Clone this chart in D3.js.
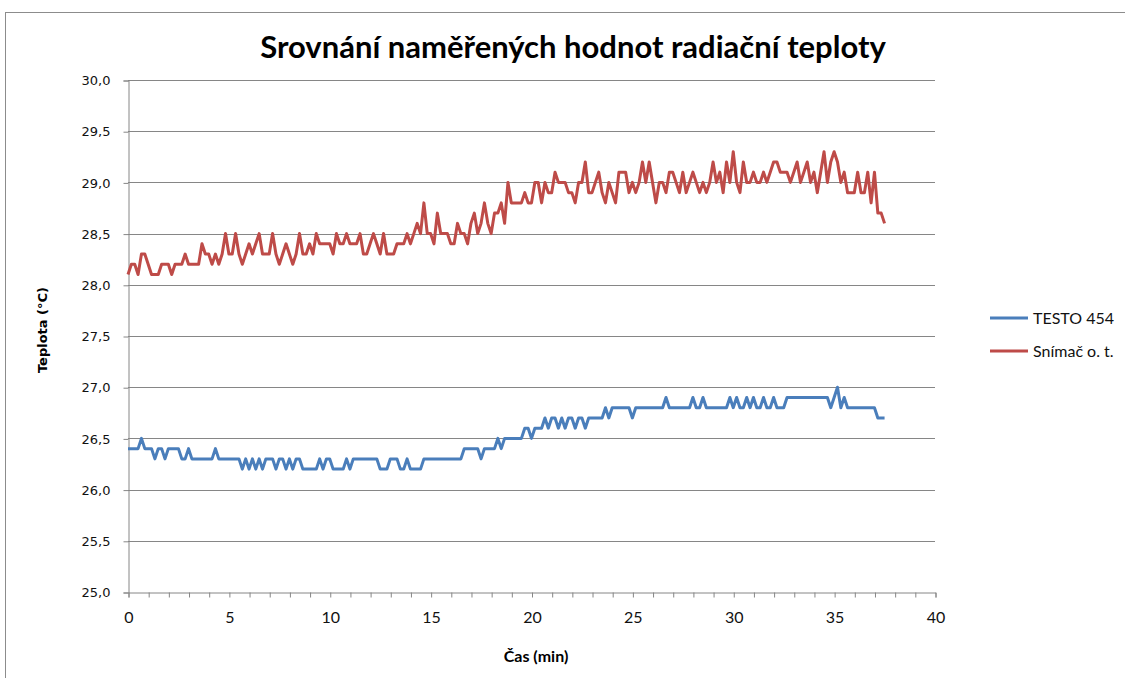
<!DOCTYPE html>
<html>
<head>
<meta charset="utf-8">
<script src="https://cdn.jsdelivr.net/npm/d3@7"></script>
<style>
    body { margin: 0; background: #fff; }
</style>
</head>
<body>
<svg id="graf" width="1125" height="678"></svg>
<script>
'use strict';

// Interval mezi měřeními (10 s) v minutách
const KROK = 1 / 6;

const CAS_POPISKY = [0, 5, 10, 15, 20, 25, 30, 35, 40];
const TEPLOTA_POPISKY = [25, 25.5, 26, 26.5, 27, 27.5, 28, 28.5, 29, 29.5, 30];

// TESTO 454 (°C), jedna hodnota každých 10 s
const TESTO = [
    26.4,26.4,26.4,26.4,26.5,26.4,26.4,26.4,26.3,26.4,26.4,26.3,
    26.4,26.4,26.4,26.4,26.3,26.3,26.4,26.3,26.3,26.3,26.3,26.3,
    26.3,26.3,26.4,26.3,26.3,26.3,26.3,26.3,26.3,26.3,26.2,26.3,
    26.2,26.3,26.2,26.3,26.2,26.3,26.3,26.3,26.2,26.3,26.3,26.2,
    26.3,26.2,26.3,26.3,26.2,26.2,26.2,26.2,26.2,26.3,26.2,26.3,
    26.3,26.2,26.2,26.2,26.2,26.3,26.2,26.3,26.3,26.3,26.3,26.3,
    26.3,26.3,26.3,26.2,26.2,26.2,26.3,26.3,26.3,26.2,26.2,26.3,
    26.2,26.2,26.2,26.2,26.3,26.3,26.3,26.3,26.3,26.3,26.3,26.3,
    26.3,26.3,26.3,26.3,26.4,26.4,26.4,26.4,26.4,26.3,26.4,26.4,
    26.4,26.4,26.5,26.4,26.5,26.5,26.5,26.5,26.5,26.5,26.6,26.6,
    26.5,26.6,26.6,26.6,26.7,26.6,26.7,26.7,26.6,26.7,26.6,26.7,
    26.7,26.6,26.7,26.7,26.6,26.7,26.7,26.7,26.7,26.7,26.8,26.7,
    26.8,26.8,26.8,26.8,26.8,26.8,26.7,26.8,26.8,26.8,26.8,26.8,
    26.8,26.8,26.8,26.8,26.9,26.8,26.8,26.8,26.8,26.8,26.8,26.8,
    26.9,26.8,26.8,26.9,26.8,26.8,26.8,26.8,26.8,26.8,26.8,26.9,
    26.8,26.9,26.8,26.8,26.9,26.8,26.9,26.8,26.8,26.9,26.8,26.8,
    26.9,26.8,26.8,26.8,26.9,26.9,26.9,26.9,26.9,26.9,26.9,26.9,
    26.9,26.9,26.9,26.9,26.9,26.8,26.9,27.0,26.8,26.9,26.8,26.8,
    26.8,26.8,26.8,26.8,26.8,26.8,26.8,26.7,26.7,26.7
];

// Snímač o. t. (°C)
const SNIMAC = [
    28.1,28.2,28.2,28.1,28.3,28.3,28.2,28.1,28.1,28.1,28.2,28.2,
    28.2,28.1,28.2,28.2,28.2,28.3,28.2,28.2,28.2,28.2,28.4,28.3,
    28.3,28.2,28.3,28.2,28.3,28.5,28.3,28.3,28.5,28.3,28.2,28.3,
    28.4,28.3,28.4,28.5,28.3,28.3,28.3,28.5,28.3,28.2,28.3,28.4,
    28.3,28.2,28.3,28.5,28.3,28.3,28.4,28.3,28.5,28.4,28.4,28.4,
    28.4,28.3,28.5,28.4,28.4,28.5,28.4,28.4,28.4,28.5,28.3,28.3,
    28.4,28.5,28.4,28.3,28.5,28.3,28.3,28.3,28.4,28.4,28.4,28.5,
    28.4,28.5,28.6,28.5,28.8,28.5,28.5,28.4,28.7,28.5,28.5,28.5,
    28.4,28.4,28.6,28.5,28.5,28.4,28.6,28.7,28.5,28.6,28.8,28.6,
    28.5,28.7,28.7,28.8,28.6,29.0,28.8,28.8,28.8,28.8,28.9,28.8,
    28.8,29.0,29.0,28.8,29.0,28.9,28.9,29.1,29.0,29.0,29.0,28.9,
    28.9,28.8,29.0,29.0,29.2,28.9,28.9,29.0,29.1,28.9,28.8,29.0,
    28.9,28.8,29.1,29.1,29.1,28.9,29.0,28.9,29.0,29.2,29.0,29.2,
    29.0,28.8,29.0,29.0,28.9,29.1,29.1,29.0,28.9,29.1,28.9,29.0,
    29.1,29.0,28.9,29.0,28.9,29.0,29.2,29.0,29.1,28.9,29.2,29.0,
    29.3,29.0,28.9,29.2,29.0,29.0,29.1,29.0,29.0,29.1,29.0,29.1,
    29.2,29.2,29.1,29.1,29.1,29.0,29.1,29.2,29.0,29.1,29.2,29.0,
    29.1,28.9,29.1,29.3,29.0,29.2,29.3,29.2,29.0,29.1,28.9,28.9,
    28.9,29.1,28.9,28.9,29.1,28.8,29.1,28.7,28.7,28.6
];

const SERIE_NAZVY = ["TESTO 454", "Snímač o. t."];
const SERIE_BARVY = ["#4a7ebb", "#be4b48"];

const svg = d3.select("#graf");

// Rámeček grafu
svg.append("rect")
    .attr("x", 5.5).attr("y", 12.5)
    .attr("width", 1200).attr("height", 700)
    .attr("fill", "none")
    .attr("stroke", "#8c8c8c")
    .attr("stroke-width", 1);

const x = d3.scaleLinear().domain([0, 40]).range([128, 935]);
const y = d3.scaleLinear().domain([25, 30]).range([592, 80]);

// Mřížka
svg.append("g")
    .selectAll("line")
    .data(TEPLOTA_POPISKY.slice(1))
    .join("line")
    .attr("x1", x(0)).attr("x2", x(40))
    .attr("y1", d => Math.round(y(d)) + 0.5)
    .attr("y2", d => Math.round(y(d)) + 0.5)
    .attr("stroke", "#868686")
    .attr("stroke-width", 1);

// Osa y
const osaY = svg.append("g")
    .attr("transform", "translate(" + (x(0) + 0.5) + ",0.5)")
    .call(d3.axisLeft(y)
        .tickValues(TEPLOTA_POPISKY)
        .tickSize(5)
        .tickPadding(13)
        .tickFormat(d => d.toFixed(1).replace(".", ",")));
osaY.selectAll("text")
    .attr("font-family", "'DejaVu Sans', Verdana, sans-serif")
    .attr("font-size", 13)
    .attr("fill", "#111");

// Osa x (vedlejší značky po 1 min)
const osaX = svg.append("g")
    .attr("transform", "translate(0.5," + (y(25) + 0.5) + ")")
    .call(d3.axisBottom(x)
        .tickValues(d3.range(0, 41))
        .tickSize(5)
        .tickPadding(14)
        .tickFormat(d => CAS_POPISKY.includes(d) ? d : ""));
osaX.selectAll("text")
    .attr("font-family", "Lato, 'Open Sans', sans-serif")
    .attr("font-size", 16)
    .attr("fill", "#111");

svg.selectAll(".domain, .tick line").attr("stroke", "#868686");

// Čáry
const cara = d3.line()
    .x((d, i) => x(i * KROK))
    .y(d => y(d));

[TESTO, SNIMAC].forEach((hodnoty, k) => {
    svg.append("path")
        .datum(hodnoty)
        .attr("d", cara)
        .attr("fill", "none")
        .attr("stroke", SERIE_BARVY[k])
        .attr("stroke-width", 3)
        .attr("stroke-linejoin", "round");
});

// Nadpis
svg.append("text")
    .attr("x", 573).attr("y", 58)
    .attr("text-anchor", "middle")
    .attr("font-family", "Lato, 'Open Sans', sans-serif")
    .attr("font-weight", "bold")
    .attr("font-size", 31)
    .attr("fill", "#000")
    .text("Srovnání naměřených hodnot radiační teploty");

// Popisky os
svg.append("text")
    .attr("x", 536).attr("y", 662)
    .attr("text-anchor", "middle")
    .attr("font-family", "Lato, 'Open Sans', sans-serif")
    .attr("font-weight", "bold")
    .attr("font-size", 16)
    .text("Čas (min)");

svg.append("text")
    .attr("transform", "translate(47,330) rotate(-90)")
    .attr("text-anchor", "middle")
    .attr("font-family", "'DejaVu Sans', Verdana, sans-serif")
    .attr("font-weight", "bold")
    .attr("font-size", 13)
    .text("Teplota (°C)");

// Legenda
const legenda = svg.append("g");
SERIE_NAZVY.forEach((nazev, k) => {
    const ly = 318 + k * 33;
    legenda.append("line")
        .attr("x1", 990).attr("x2", 1028)
        .attr("y1", ly).attr("y2", ly)
        .attr("stroke", SERIE_BARVY[k])
        .attr("stroke-width", 3);
    legenda.append("text")
        .attr("x", 1033).attr("y", ly + 6)
        .attr("font-family", "Lato, 'Open Sans', sans-serif")
        .attr("font-size", 16)
        .attr("fill", "#111")
        .text(nazev);
});
</script>
</body>
</html>
